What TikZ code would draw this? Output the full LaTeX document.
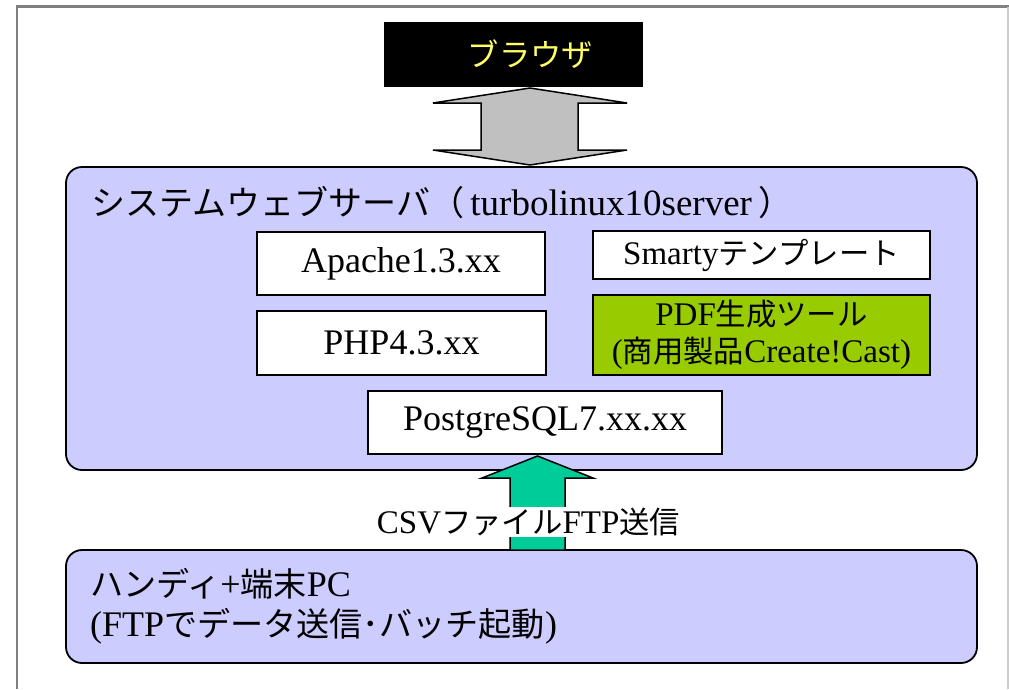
\documentclass[tikz,border=0pt]{standalone}
\usepackage{fontspec}
\setmainfont{Liberation Serif}
\newfontfamily\jp[Scale=0.92]{Noto Sans CJK JP}
\usetikzlibrary{calc}
\definecolor{lav}{RGB}{204,204,255}
\definecolor{pdfg}{RGB}{153,204,0}
\definecolor{csvg}{RGB}{0,204,153}
\definecolor{arrg}{RGB}{192,192,192}
\definecolor{frm}{RGB}{128,128,128}
\definecolor{brw}{RGB}{255,255,102}
\tikzset{
  swbox/.style={draw, fill=white, line width=1.5pt, inner sep=0pt, font=\fontsize{36}{40}\selectfont},
  panel/.style={draw, fill=lav, line width=1.8pt, rounded corners=16pt},
  blockarrow/.style={draw, line width=1.5pt, line join=miter},
}

\begin{document}
\begin{tikzpicture}[x=1pt, y=-1pt]
        \useasboundingbox (0,0) rectangle (1009,689);
        % frame
        \draw[frm, line width=2.5pt] (17,689) -- (17,6.5) -- (1009,6.5);
        \draw[frm!40, line width=1.5pt] (1008,6.5) -- (1008,689);

        \node[fill=black, minimum width=259pt, minimum height=65pt, text=brw, font=\jp\fontsize{34}{38}\selectfont] (browser) at (513.5,54.5) {\hspace*{34pt}ブラウザ};
        \node[panel, minimum width=911pt, minimum height=303pt] (server) at (521.5,318.5) {};
        \node[panel, minimum width=911pt, minimum height=113pt] (hand) at (521.5,606.5) {};

        \node[anchor=west, inner sep=0pt, font=\fontsize{37}{40}\selectfont] (title) at (91,203) {{\jp システムウェブサーバ（}\,turbolinux10server\,{\jp ）}};
        \node[swbox, minimum width=288pt, minimum height=63pt] (apache) at (401,263.5) {Apache1.3.xx};
        \node[swbox, minimum width=289pt, minimum height=64pt] (php) at (401.5,343) {PHP4.3.xx};
        \node[swbox, minimum width=337pt, minimum height=48pt, font=\fontsize{33}{37}\selectfont] (smarty) at (761.5,255) {Smarty{\jp テンプレート}};
        \node[swbox, fill=pdfg, align=center, minimum width=337pt, minimum height=80pt, font=\fontsize{33}{37}\selectfont] (pdf) at (761.5,335) {PDF{\jp 生成ツール}\\({\jp 商用製品}Create!Cast)};
        \node[swbox, minimum width=354pt, minimum height=63pt] (pgsql) at (545,422.5) {PostgreSQL7.xx.xx};

        \node[anchor=west, align=left, inner sep=0pt, font=\fontsize{36}{40}\selectfont] (handtxt) at (90,606) {{\jp ハンディ}+{\jp 端末}PC\\(FTP{\jp でデータ送信･バッチ起動})};

        % browser <-> server
        \coordinate (gtop) at (530,88);
        \coordinate (gbot) at (530,165);
        \draw[blockarrow, fill=arrg] (gtop) -- ++(97,15) -- ++(-49,0) -- ($(gbot)+(48,-15)$) -- ++(49,0) -- (gbot) -- ++(-97,-15) -- ++(48,0) -- ($(gtop)+(-49,15)$) -- ++(-48,0) -- cycle;

        % csv upload
        \coordinate (ctip) at (537.5,456);
        \coordinate (cfoot) at (537.5,550);
        \draw[blockarrow, fill=csvg] (ctip) -- ++(55.5,22) -- ++(-28,0) -- ($(cfoot)+(27.5,0)$) -- ($(cfoot)+(-27.5,0)$) -- ++(0,-72) -- ++(-28,0) -- cycle;
        \node[fill=white, inner sep=1pt, font=\fontsize{33}{37}\selectfont] (csv) at (528.5,522) {CSV{\jp ファイル}FTP{\jp 送信}};
\end{tikzpicture}
\end{document}
